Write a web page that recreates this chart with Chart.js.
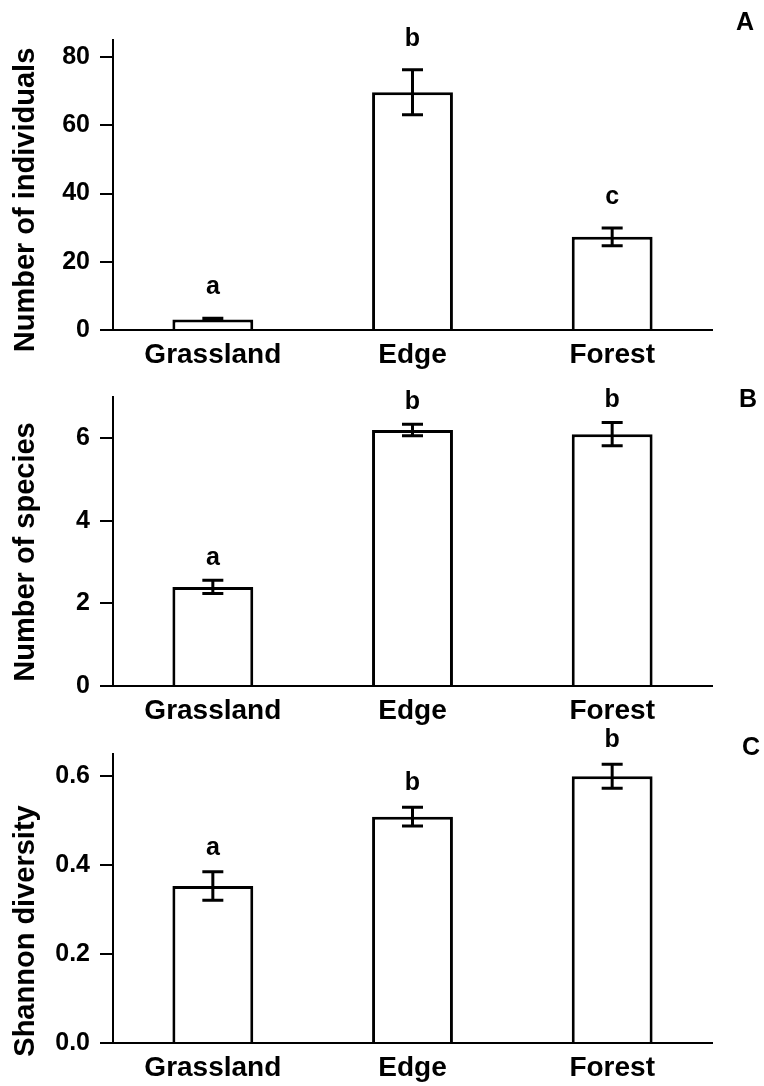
<!DOCTYPE html>
<html>
<head>
<meta charset="utf-8">
<script src="https://cdn.jsdelivr.net/npm/chart.js@4.4.1/dist/chart.umd.min.js"></script>
<style>
html, body { margin: 0; padding: 0; background: #fff; }
#wrap { position: relative; width: 764px; height: 1086px; }
canvas { position: absolute; left: 0; }
</style>
</head>
<body>
<div id="wrap">
  <canvas id="panelA" width="764" height="370" style="top:0px"></canvas>
  <canvas id="panelB" width="764" height="356" style="top:370px"></canvas>
  <canvas id="panelC" width="764" height="360" style="top:726px"></canvas>
</div>
<script>
const categories = ['Grassland', 'Edge', 'Forest'];

// A: number of individuals
const individualsMean = [3.1, 69.7, 27.3];
const individualsErr = [0.35, 6.6, 2.6];
const individualsLetters = ['a', 'b', 'c'];
const individualsTicks = [0, 20, 40, 60, 80];

// B: number of species
const speciesMean = [2.4, 6.2, 6.1];
const speciesErr = [0.16, 0.14, 0.28];
const speciesLetters = ['a', 'b', 'b'];
const speciesTicks = [0, 2, 4, 6];

// C: Shannon diversity
const shannonMean = [0.353, 0.509, 0.6];
const shannonErr = [0.032, 0.021, 0.027];
const shannonLetters = ['a', 'b', 'b'];
const shannonTicks = [0, 0.2, 0.4, 0.6];

const FONT = "'Liberation Sans', Arial, Helvetica, sans-serif";

// error bars, significance letters, panel letter and y title
const annotate = {
  id: 'annotate',
  afterDatasetsDraw(chart, args, opts) {
    const ctx = chart.ctx;
    const xs = chart.scales.x, ys = chart.scales.y;
    const mean = chart.data.datasets[0].data;
    ctx.save();
    ctx.strokeStyle = '#000';
    ctx.fillStyle = '#000';
    ctx.lineWidth = 3;
    ctx.font = 'bold 25px ' + FONT;
    ctx.textAlign = 'center';
    ctx.textBaseline = 'middle';
    mean.forEach((m, i) => {
      const cx = xs.getPixelForValue(i);
      const top = ys.getPixelForValue(m + opts.err[i]);
      const bot = ys.getPixelForValue(m - opts.err[i]);
      ctx.beginPath();
      ctx.moveTo(cx, top); ctx.lineTo(cx, bot);
      ctx.moveTo(cx - 10.5, top); ctx.lineTo(cx + 10.5, top);
      ctx.moveTo(cx - 10.5, bot); ctx.lineTo(cx + 10.5, bot);
      ctx.stroke();
      ctx.fillText(opts.letters[i], cx, top - opts.gap);
    });

    ctx.fillText(opts.panel, opts.panelX, opts.panelY);

    ctx.font = 'bold 29px ' + FONT;
    ctx.textBaseline = 'alphabetic';
    ctx.translate(34, opts.titleY);
    ctx.rotate(-Math.PI / 2);
    ctx.fillText(opts.title, 0, 0);
    ctx.restore();
  }
};

function makePanel(id, p) {
  return new Chart(document.getElementById(id), {
    type: 'bar',
    data: {
      labels: categories,
      datasets: [{
        data: p.mean,
        backgroundColor: '#fff',
        borderColor: '#000',
        borderWidth: 3,
        borderSkipped: 'bottom',
        barPercentage: 0.405,
        categoryPercentage: 1
      }]
    },
    options: {
      responsive: false,
      animation: false,
      layout: { padding: { top: p.top, right: 52, bottom: 0, left: 0 } },
      plugins: {
        legend: { display: false },
        tooltip: { enabled: false },
        annotate: {
          err: p.err, letters: p.letters, gap: p.gap,
          panel: p.panel, panelX: p.panelX, panelY: p.panelY,
          title: p.title, titleY: p.titleY
        }
      },
      scales: {
        x: {
          grid: { display: false, drawTicks: false },
          border: { color: '#000', width: 2 },
          ticks: { color: '#000', font: { family: FONT, size: 28, weight: 'bold' }, padding: 8, maxRotation: 0, autoSkip: false },
          afterFit: s => { s.height = p.bottom; }
        },
        y: {
          min: 0,
          max: p.max,
          grid: { drawOnChartArea: false, drawTicks: true, tickLength: 13, color: '#000', lineWidth: 2 },
          border: { color: '#000', width: 2 },
          ticks: { color: '#000', font: { family: FONT, size: 25, weight: 'bold' }, padding: 10, callback: v => p.fmt(v) },
          afterBuildTicks: s => { s.ticks = p.ticks.map(v => ({ value: v })); },
          afterFit: s => { s.width = 113; }
        }
      }
    },
    plugins: [annotate]
  });
}

makePanel('panelA', {
  mean: individualsMean, err: individualsErr, letters: individualsLetters, ticks: individualsTicks,
  max: 85, top: 40, bottom: 40, gap: 31, fmt: v => String(v),
  panel: 'A', panelX: 745, panelY: 23,
  title: 'Number of individuals', titleY: 200
});

makePanel('panelB', {
  mean: speciesMean, err: speciesErr, letters: speciesLetters, ticks: speciesTicks,
  max: 7, top: 27, bottom: 40, gap: 22, fmt: v => String(v),
  panel: 'B', panelX: 748, panelY: 30,
  title: 'Number of species', titleY: 182
});

makePanel('panelC', {
  mean: shannonMean, err: shannonErr, letters: shannonLetters, ticks: shannonTicks,
  max: 0.65, top: 28, bottom: 43, gap: 24, fmt: v => v.toFixed(1),
  panel: 'C', panelX: 751, panelY: 22,
  title: 'Shannon diversity', titleY: 205
});
</script>
</body>
</html>
